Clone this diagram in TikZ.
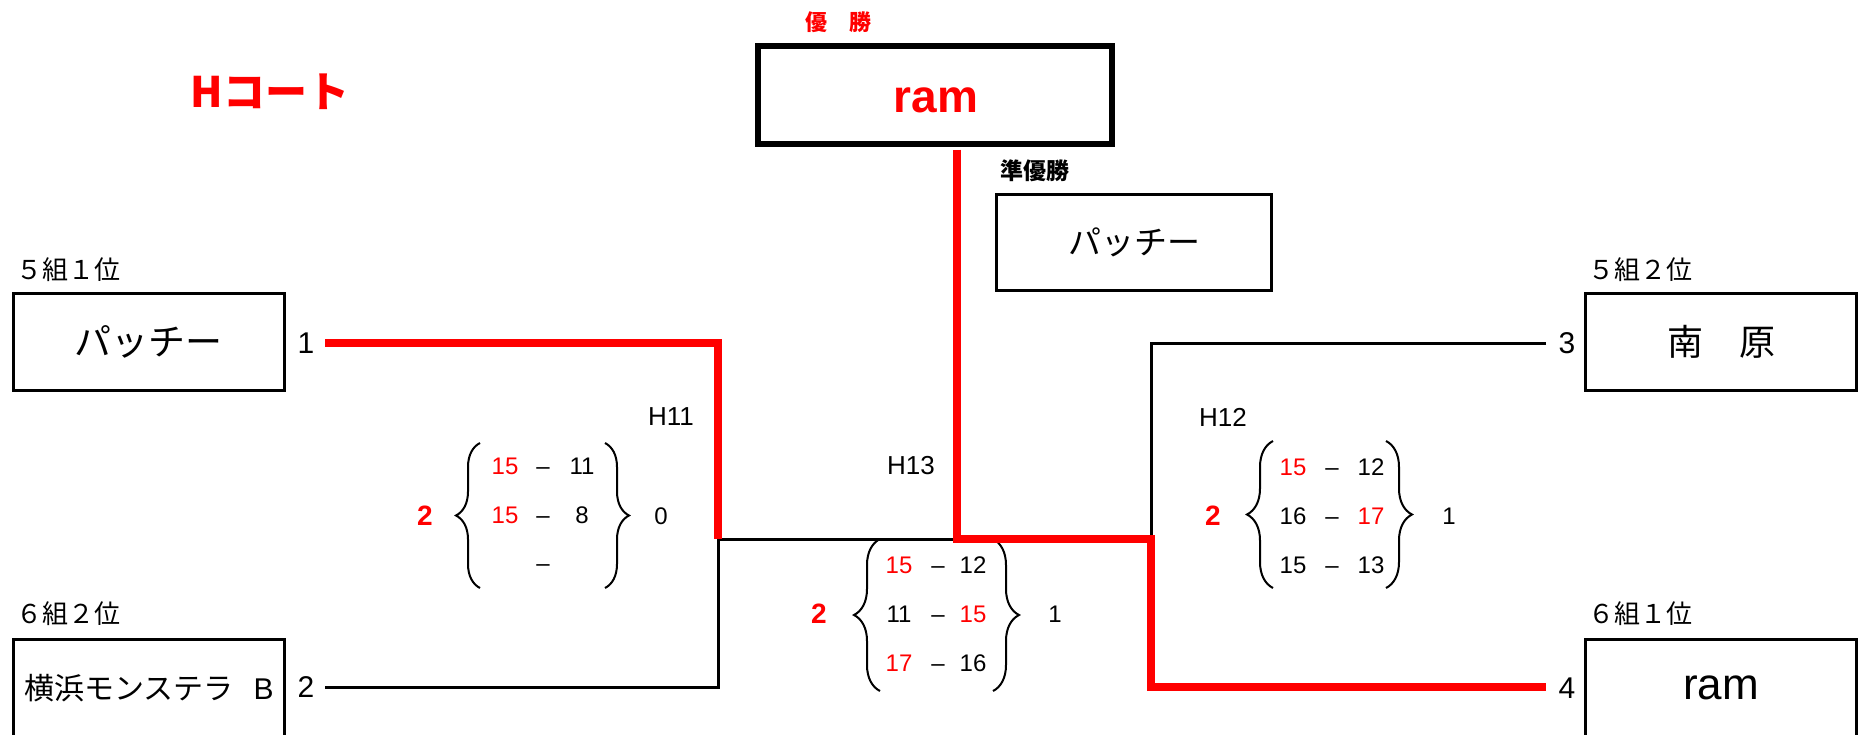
\documentclass[tikz,border=0pt]{standalone}
\usepackage{fontspec}
\setmainfont{Liberation Sans}
\newfontfamily\jp{Noto Sans CJK JP}
\usetikzlibrary{decorations.pathreplacing,positioning}

\begin{document}
\begin{tikzpicture}[x=0.5pt,y=-0.5pt,
  team/.style={draw,line width=1.6pt,minimum width=135.5pt,minimum height=48.5pt,inner sep=0pt},
  win/.style={red,line width=3.75pt},
  lose/.style={black,line width=1.5pt},
  grp/.style={anchor=west,inner sep=0pt,font=\jp\fontsize{13}{13}\selectfont},
  num/.style={inner sep=0pt,font=\fontsize{15}{15}\selectfont},
  pts/.style={inner sep=0pt,text height=8.6pt,text depth=0pt,font=\fontsize{12}{12}\selectfont},
  match/.style={inner sep=0pt,font=\fontsize{13}{13}\selectfont},
  sets/.style={inner sep=0pt,red,font=\bfseries\fontsize{14}{14}\selectfont},
  curly/.style={decorate,decoration={brace,amplitude=#1},line width=1pt},
  curly/.default=13pt]
\useasboundingbox (0,0) rectangle (1859,734);
\node[inner sep=0pt,red,font=\jp\bfseries\fontsize{21}{21}\selectfont] (court) at (270,92) {Hコート};
% final
\node[inner sep=0pt,red,font=\jp\bfseries\fontsize{11}{11}\selectfont] (champlbl) at (838,22) {優　勝};
\node[draw,line width=2.8pt,minimum width=177pt,minimum height=49pt] (champ) at (935,95) {};
\node[inner sep=0pt,red,font=\bfseries\fontsize{23}{23}\selectfont] (champname) at (936,100) {ram};
\node[anchor=west,inner sep=0pt,font=\jp\bfseries\fontsize{11.5}{11.5}\selectfont] (runnerlbl) at (1000,171) {準優勝};
\node[team,line width=1.5pt,minimum width=137.5pt,minimum height=48pt,font=\jp\fontsize{16.5}{16.5}\selectfont] (runner) at (1134,242.5) {パッチー};
% teams
\node[grp] (g1) at (16,270) {５組１位}; \node[team,font=\jp\fontsize{18.5}{18.5}\selectfont] (t1) at (149,342) {パッチー};
\node[grp] (g2) at (16,614) {６組２位}; \node[team,font=\jp\fontsize{15}{15}\selectfont] (t2) at (149,688) {横浜モンステラ\hspace{10pt}{\normalfont B}};
\node[grp] (g3) at (1588,270) {５組２位}; \node[team,font=\jp\fontsize{18}{18}\selectfont] (t3) at (1721,342) {南　原};
\node[grp] (g4) at (1588,614) {６組１位}; \node[team,font=\fontsize{22}{22}\selectfont] (t4) at (1721,688) {ram};
\node[num] (s1) at (306,343) {1}; \node[num] (s2) at (306,687) {2};
\node[num] (s3) at (1567,343) {3}; \node[num] (s4) at (1567,688) {4};
% H11
\node[match] (h11) at (671,417) {H11};
\node[sets] (h11w) at (425,516) {2}; \node[pts] (h11l) at (661,516) {0};
\draw[curly=12pt] (480,588) -- (480,443); \draw[curly=12pt] (605,443) -- (605,588);
\node[pts,red] (h11a1) at (505,466) {15}; \node[pts] (h11d1) at (543,466) {\textendash}; \node[pts] (h11b1) at (582,466) {11};
\node[pts,red] (h11a2) at (505,515) {15}; \node[pts] (h11d2) at (543,515) {\textendash}; \node[pts] (h11b2) at (582,515) {8};
\node[pts] (h11d3) at (543,563) {\textendash};
% H13
\node[match] (h13) at (911,466) {H13};
\node[sets] (h13w) at (819,614) {2}; \node[pts] (h13l) at (1055,614) {1};
\draw[curly] (880,691) -- (880,539); \draw[curly] (993,539) -- (993,691);
\node[pts,red] (h13a1) at (899,565) {15}; \node[pts] (h13d1) at (938,565) {\textendash}; \node[pts] (h13b1) at (973,565) {12};
\node[pts] (h13a2) at (899,614) {11}; \node[pts] (h13d2) at (938,614) {\textendash}; \node[pts,red] (h13b2) at (973,614) {15};
\node[pts,red] (h13a3) at (899,663) {17}; \node[pts] (h13d3) at (938,663) {\textendash}; \node[pts] (h13b3) at (973,663) {16};
% H12
\node[match] (h12) at (1223,417) {H12};
\node[sets] (h12w) at (1213,516) {2}; \node[pts] (h12l) at (1449,516) {1};
\draw[curly] (1273,588) -- (1273,441); \draw[curly] (1386,441) -- (1386,588);
\node[pts,red] (h12a1) at (1293,467) {15}; \node[pts] (h12d1) at (1332,467) {\textendash}; \node[pts] (h12b1) at (1371,467) {12};
\node[pts] (h12a2) at (1293,516) {16}; \node[pts] (h12d2) at (1332,516) {\textendash}; \node[pts,red] (h12b2) at (1371,516) {17};
\node[pts] (h12a3) at (1293,565) {15}; \node[pts] (h12d3) at (1332,565) {\textendash}; \node[pts] (h12b3) at (1371,565) {13};
% bracket lines
\coordinate (m11) at (718,539); \coordinate (m13) at (957,539); \coordinate (m12) at (1151,539);
\coordinate (e1) at (325,343); \coordinate (e2) at (325,687); \coordinate (e3) at (1546,343); \coordinate (e4) at (1546,687);
\coordinate (wb) at ([yshift=-1.4pt]champ.south);
\draw[lose] (m11) -- (m13); \draw[lose] (e2) -| (m11); \draw[lose] (e3) -| (m12);
\draw[win] (e1) -| (m11);
\draw[win] (wb -| m13) -- (m13) -- (m12) |- (e4);
\end{tikzpicture}
\end{document}
